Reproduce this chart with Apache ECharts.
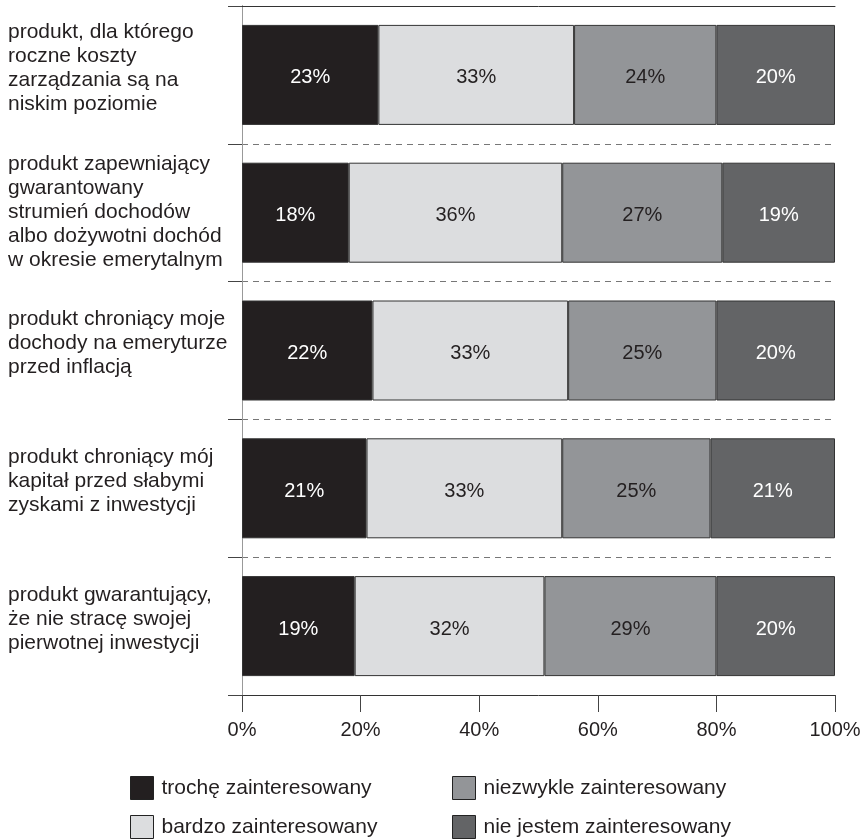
<!DOCTYPE html>
<html>
<head>
<meta charset="utf-8">
<script src="https://cdn.jsdelivr.net/npm/echarts@6/dist/echarts.min.js"></script>
<style>
html,body{margin:0;padding:0;background:#fff;}
#chart{width:866px;height:840px;}
</style>
</head>
<body>
<div id="chart"></div>
<script>
const categories = [
  'produkt, dla którego\nroczne koszty\nzarządzania są na\nniskim poziomie',
  'produkt zapewniający\ngwarantowany\nstrumień dochodów\nalbo dożywotni dochód\nw okresie emerytalnym',
  'produkt chroniący moje\ndochody na emeryturze\nprzed inflacją',
  'produkt chroniący mój\nkapitał przed słabymi\nzyskami z inwestycji',
  'produkt gwarantujący,\nże nie stracę swojej\npierwotnej inwestycji'
];
const seriesNames = ['trochę zainteresowany', 'bardzo zainteresowany', 'niezwykle zainteresowany', 'nie jestem zainteresowany'];
const trocheValues = [23, 18, 22, 21, 19];
const bardzoValues = [33, 36, 33, 33, 32];
const niezwykleValues = [24, 27, 25, 25, 29];
const nieJestemValues = [20, 19, 20, 21, 20];
const xTicks = [0, 20, 40, 60, 80, 100];

const colors = ['#231f20', '#dcdddf', '#939598', '#636466'];
const labelColors = ['#ffffff', '#231f20', '#231f20', '#ffffff'];
const values = [trocheValues, bardzoValues, niezwykleValues, nieJestemValues];
const FONT = '"Liberation Sans", Arial, sans-serif';

const chart = echarts.init(document.getElementById('chart'), null, {renderer: 'canvas'});
const series = seriesNames.map((name, k) => ({
  name: name,
  type: 'bar',
  stack: 'total',
  barWidth: 100,
  data: values[k],
  itemStyle: {color: colors[k], borderColor: '#333', borderWidth: 1},
  label: {
    show: true,
    position: 'inside',
    formatter: '{c}%',
    color: labelColors[k],
    fontFamily: FONT,
    fontSize: 20,
    offset: [0, 3]
  },
  emphasis: {disabled: true}
}));

const legendCommon = {
  orient: 'vertical',
  top: 776,
  padding: 0,
  itemWidth: 23, itemHeight: 23, itemGap: 15,
  icon: 'rect',
  itemStyle: {borderColor: '#222', borderWidth: 1},
  textStyle: {fontFamily: FONT, fontSize: 21, color: '#231f20', padding: [0, 0, 0, 3]},
  selectedMode: false
};

chart.setOption({
  animation: false,
  backgroundColor: '#fff',
  grid: {left: 242, right: 31, top: 6, bottom: 145, containLabel: false},
  legend: [
    Object.assign({}, legendCommon, {data: [seriesNames[0], seriesNames[1]], left: 130}),
    Object.assign({}, legendCommon, {data: [seriesNames[2], seriesNames[3]], left: 452})
  ],
  xAxis: [
    {
      type: 'value', position: 'bottom', min: xTicks[0], max: xTicks[xTicks.length - 1], interval: 20,
      axisLine: {show: true, lineStyle: {color: '#333', width: 1}},
      axisTick: {show: true, length: 17, lineStyle: {color: '#444', width: 1}},
      axisLabel: {formatter: '{value}%', fontFamily: FONT, fontSize: 20, color: '#231f20', margin: 25},
      splitLine: {show: false}
    },
    {
      type: 'value', position: 'top', min: 0, max: 100,
      axisLine: {show: true, lineStyle: {color: '#333', width: 1}},
      axisTick: {show: false}, axisLabel: {show: false}, splitLine: {show: false}
    }
  ],
  yAxis: [
    {
      type: 'category', data: categories, inverse: true, position: 'left',
      axisLine: {show: true, lineStyle: {color: '#444', width: 1}},
      axisTick: {show: true, length: 14, inside: false, lineStyle: {color: '#444', width: 1}},
      splitLine: {show: true, lineStyle: {color: '#777', type: [6, 5], width: 1}},
      axisLabel: {
        align: 'left', margin: 234, interval: 0,
        fontFamily: FONT, fontSize: 21, color: '#231f20',
        formatter: function (v, i) {
          return i === 1 ? '{t|' + v + '}' : '{t|' + v + '}\n{s| }';
        },
        rich: {
          t: {fontFamily: FONT, fontSize: 21, lineHeight: 24, color: '#231f20', align: 'left'},
          s: {fontSize: 10, lineHeight: 14}
        }
      }
    },
    {
      type: 'category', data: categories, inverse: true, position: 'right',
      axisLine: {show: true, lineStyle: {color: '#999', width: 1}},
      axisTick: {show: false}, axisLabel: {show: false}, splitLine: {show: false}
    }
  ],
  series: series
});
</script>
</body>
</html>
